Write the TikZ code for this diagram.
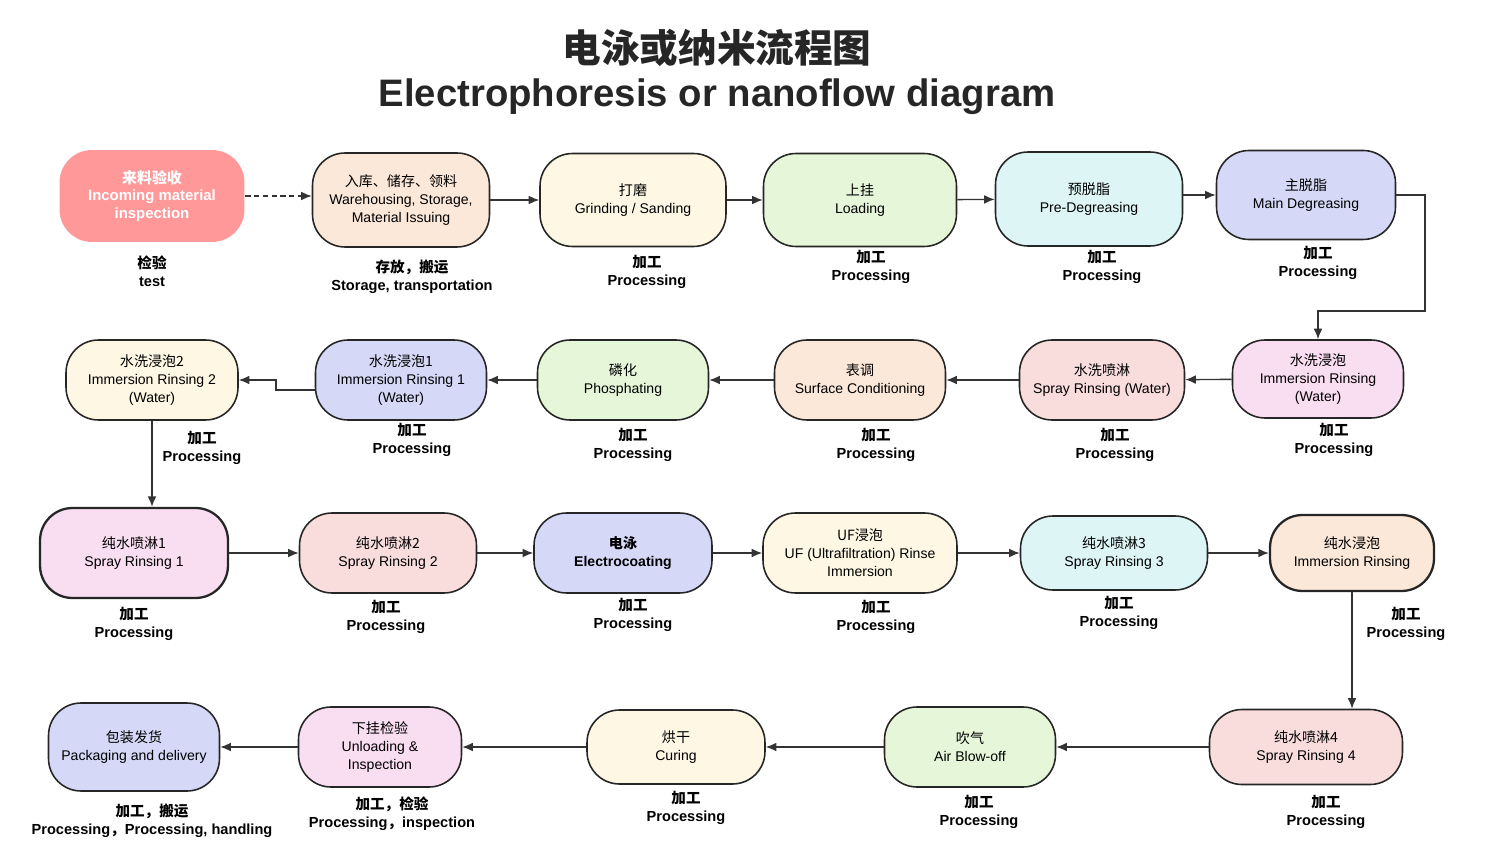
\documentclass[tikz,border=0pt]{standalone}
\usepackage{fontspec}
\setmainfont{Liberation Sans}
\newfontfamily\cjk{Noto Sans CJK SC}
\usetikzlibrary{arrows.meta}
\begin{document}
\begin{tikzpicture}[x=0.02cm,y=-0.02cm,
  box/.style={draw=black!85,line width=0.9pt,rounded corners=0.65cm,align=center,font=\fontsize{8}{10.2}\selectfont,inner sep=2pt},
  lab/.style={align=center,font=\fontsize{8.3}{10.2}\selectfont\bfseries},
  arr/.style={-{Latex[length=6pt,width=5pt]},line width=0.8pt,draw=black!80}]
\useasboundingbox (0,0) rectangle (1500,864);
\definecolor{cRed}{HTML}{FF9999}
\definecolor{cPeach}{HTML}{FCE8D8}
\definecolor{cCream}{HTML}{FDF7E4}
\definecolor{cGreen}{HTML}{E6F7D9}
\definecolor{cCyan}{HTML}{DDF5F5}
\definecolor{cBlue}{HTML}{D5D8F7}
\definecolor{cPink}{HTML}{F9DDF0}
\definecolor{cRose}{HTML}{F9DCDC}
\node[font=\fontsize{22}{26}\selectfont\bfseries\cjk,text=black!85] (t1) at (717,48) {电泳或纳米流程图};
\node[font=\fontsize{21.8}{26}\selectfont\bfseries,text=black!85] (t2) at (717,97) {Electrophoresis or nanoflow diagram};
% Row 1
\node[box,draw=none,fill=cRed,text=white,font=\fontsize{8.5}{10.2}\selectfont\bfseries,minimum width=3.7cm,minimum height=1.84cm] (n1) at (152,196) {{\cjk 来料验收}\\Incoming material\\inspection};
\node[box,fill=cPeach,minimum width=3.54cm,minimum height=1.88cm] (n2) at (401,200) {{\cjk 入库、储存、领料}\\Warehousing, Storage,\\Material Issuing};
\node[box,fill=cCream,minimum width=3.72cm,minimum height=1.86cm] (n3) at (633,200) {{\cjk 打磨}\\Grinding / Sanding};
\node[box,fill=cGreen,minimum width=3.86cm,minimum height=1.86cm] (n4) at (860,200) {{\cjk 上挂}\\Loading};
\node[box,fill=cCyan,minimum width=3.74cm,minimum height=1.88cm] (n5) at (1089,199) {{\cjk 预脱脂}\\Pre-Degreasing};
\node[box,fill=cBlue,minimum width=3.58cm,minimum height=1.78cm] (n6) at (1306,195) {{\cjk 主脱脂}\\Main Degreasing};
\node[lab] (l1) at (152,271) {{\cjk 检验}\\test};
\node[lab] (l2) at (412,277) {{\cjk 存放，搬运}\\Storage, transportation};
\node[lab] (l3) at (647,272) {{\cjk 加工}\\Processing};
\node[lab] (l4) at (871,267) {{\cjk 加工}\\Processing};
\node[lab] (l5) at (1102,267) {{\cjk 加工}\\Processing};
\node[lab] (l6) at (1318,263) {{\cjk 加工}\\Processing};
% Row 2
\node[box,fill=cPink,minimum width=3.42cm,minimum height=1.56cm] (m1) at (1318,379) {{\cjk 水洗浸泡}\\Immersion Rinsing\\(Water)};
\node[box,fill=cRose,minimum width=3.3cm,minimum height=1.6cm] (m2) at (1102,380) {{\cjk 水洗喷淋}\\Spray Rinsing (Water)};
\node[box,fill=cPeach,minimum width=3.42cm,minimum height=1.6cm] (m3) at (860,380) {{\cjk 表调}\\Surface Conditioning};
\node[box,fill=cGreen,minimum width=3.42cm,minimum height=1.6cm] (m4) at (623,380) {{\cjk 磷化}\\Phosphating};
\node[box,fill=cBlue,minimum width=3.42cm,minimum height=1.6cm] (m5) at (401,380) {{\cjk 水洗浸泡1}\\Immersion Rinsing 1\\(Water)};
\node[box,fill=cCream,minimum width=3.44cm,minimum height=1.6cm] (m6) at (152,380) {{\cjk 水洗浸泡2}\\Immersion Rinsing 2\\(Water)};
\node[lab] (k1) at (1334,440) {{\cjk 加工}\\Processing};
\node[lab] (k2) at (1115,445) {{\cjk 加工}\\Processing};
\node[lab] (k3) at (876,445) {{\cjk 加工}\\Processing};
\node[lab] (k4) at (633,445) {{\cjk 加工}\\Processing};
\node[lab] (k5) at (412,440) {{\cjk 加工}\\Processing};
\node[lab] (k6) at (202,448) {{\cjk 加工}\\Processing};
% Row 3
\node[box,fill=cPink,line width=1.3pt,minimum width=3.76cm,minimum height=1.8cm] (r1) at (134,553) {{\cjk 纯水喷淋1}\\Spray Rinsing 1};
\node[box,fill=cRose,minimum width=3.54cm,minimum height=1.6cm] (r2) at (388,553) {{\cjk 纯水喷淋2}\\Spray Rinsing 2};
\node[box,fill=cBlue,font=\fontsize{8}{10.2}\selectfont\bfseries,minimum width=3.56cm,minimum height=1.6cm] (r3) at (623,553) {{\cjk 电泳}\\Electrocoating};
\node[box,fill=cCream,minimum width=3.88cm,minimum height=1.6cm] (r4) at (860,553) {{\cjk UF浸泡}\\UF (Ultrafiltration) Rinse\\Immersion};
\node[box,fill=cCyan,minimum width=3.74cm,minimum height=1.48cm] (r5) at (1114,553) {{\cjk 纯水喷淋3}\\Spray Rinsing 3};
\node[box,fill=cPeach,line width=1.3pt,minimum width=3.28cm,minimum height=1.52cm] (r6) at (1352,553) {{\cjk 纯水浸泡}\\Immersion Rinsing};
\node[lab] (j1) at (134,624) {{\cjk 加工}\\Processing};
\node[lab] (j2) at (386,617) {{\cjk 加工}\\Processing};
\node[lab] (j3) at (633,615) {{\cjk 加工}\\Processing};
\node[lab] (j4) at (876,617) {{\cjk 加工}\\Processing};
\node[lab] (j5) at (1119,613) {{\cjk 加工}\\Processing};
\node[lab] (j6) at (1406,624) {{\cjk 加工}\\Processing};
% Row 4
\node[box,fill=cRose,minimum width=3.86cm,minimum height=1.5cm] (s1) at (1306,747) {{\cjk 纯水喷淋4}\\Spray Rinsing 4};
\node[box,fill=cGreen,minimum width=3.42cm,minimum height=1.6cm] (s2) at (970,747) {{\cjk 吹气}\\Air Blow-off};
\node[box,fill=cCream,minimum width=3.56cm,minimum height=1.48cm] (s3) at (676,747) {{\cjk 烘干}\\Curing};
\node[box,fill=cPink,minimum width=3.26cm,minimum height=1.6cm] (s4) at (380,747) {{\cjk 下挂检验}\\Unloading \&\\Inspection};
\node[box,fill=cBlue,minimum width=3.42cm,minimum height=1.76cm] (s5) at (134,747) {{\cjk 包装发货}\\Packaging and delivery};
\node[lab] (i1) at (1326,812) {{\cjk 加工}\\Processing};
\node[lab] (i2) at (979,812) {{\cjk 加工}\\Processing};
\node[lab] (i3) at (686,808) {{\cjk 加工}\\Processing};
\node[lab] (i4) at (392,814) {{\cjk 加工，检验}\\Processing{\cjk ，}inspection};
\node[lab] (i5) at (152,821) {{\cjk 加工，搬运}\\Processing{\cjk ，}Processing, handling};
% connectors
\draw[arr,densely dashed] (n1.east) -- (n1.east -| n2.west);
\draw[arr] (n2) -- (n3);
\draw[arr] (n3) -- (n4);
\draw[arr] (n4) -- (n5);
\draw[arr] (n5.east |- n6.east) -- (n6.east -| n6.west);
\coordinate (c1) at (1425,311);
\draw[arr] (n6.east) -| (c1) -| (m1.north);
\draw[arr] (m1) -- (m2);
\draw[arr] (m2) -- (m3);
\draw[arr] (m3) -- (m4);
\draw[arr] (m4) -- (m5);
\coordinate (c2) at (276,390);
\draw[arr] (m5.west |- c2) -- (c2) |- (m6.east);
\draw[arr] (m6.south) -- (m6.south |- r1.north);
\draw[arr] (r1) -- (r2);
\draw[arr] (r2) -- (r3);
\draw[arr] (r3) -- (r4);
\draw[arr] (r4) -- (r5);
\draw[arr] (r5) -- (r6);
\draw[arr] (r6.south) -- (r6.south |- s1.north);
\draw[arr] (s1) -- (s2);
\draw[arr] (s2) -- (s3);
\draw[arr] (s3) -- (s4);
\draw[arr] (s4) -- (s5);
\end{tikzpicture}
\end{document}
